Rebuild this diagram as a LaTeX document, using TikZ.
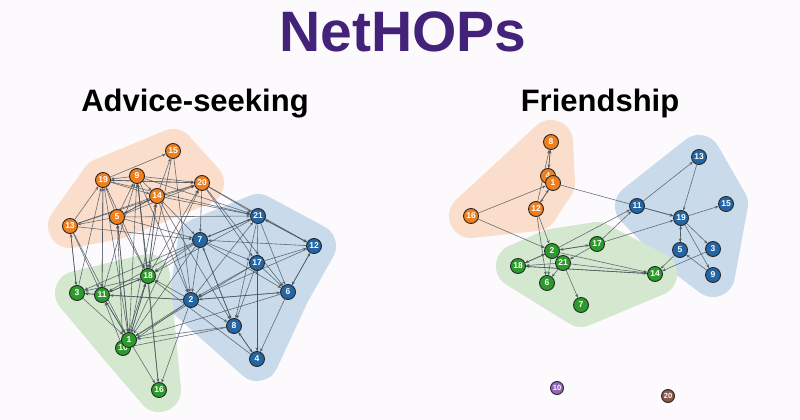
\documentclass[tikz,border=0pt]{standalone}
\usepackage{fontspec}
\setmainfont{Liberation Sans}
\usepackage{xcolor}
\usepackage{tikz}
\usetikzlibrary{arrows.meta}

\definecolor{bgpaper}{RGB}{252,250,253}
\definecolor{titlepurple}{RGB}{67,35,122}
\definecolor{vorange}{RGB}{242,127,30}
\definecolor{vblue}{RGB}{36,101,163}
\definecolor{vgreen}{RGB}{44,155,44}
\definecolor{vpurple}{RGB}{148,103,189}
\definecolor{vbrown}{RGB}{140,86,75}
\definecolor{horange}{RGB}{250,222,203}
\definecolor{hblue}{RGB}{201,219,234}
\definecolor{hgreen}{RGB}{212,232,208}
\definecolor{linkgray}{RGB}{70,80,90}

\pgfdeclarelayer{paper}
\pgfdeclarelayer{hulls}
\pgfdeclarelayer{links}
\pgfsetlayers{paper,hulls,links,main}

\begin{document}
\begin{tikzpicture}[x=1pt,y=-1pt,
		vtx/.style={circle,draw=black!85,line width=0.9pt,minimum size=15pt,inner sep=0pt,
			text=white,font=\fontsize{8.5}{8.5}\selectfont\bfseries},
		onode/.style={vtx,fill=vorange},
		bnode/.style={vtx,fill=vblue},
		gnode/.style={vtx,fill=vgreen},
		pnode/.style={vtx,fill=vpurple,minimum size=13pt,font=\fontsize{7.5}{7.5}\selectfont\bfseries},
		brnode/.style={vtx,fill=vbrown,minimum size=13pt,font=\fontsize{7.5}{7.5}\selectfont\bfseries},
		link/.style={draw=linkgray,opacity=0.8,line width=0.6pt,-{Stealth[length=3.5pt,width=3pt]}},
		ohull/.style={fill=horange,draw=horange,line width=44pt,line join=round},
		bhull/.style={fill=hblue,draw=hblue,line width=44pt,line join=round},
		ghull/.style={fill=hgreen,draw=hgreen,line width=44pt,line join=round},
		heading/.style={anchor=base,font=\fontsize{31}{31}\selectfont\bfseries}]

	\begin{pgfonlayer}{paper}
		\fill[bgpaper] (0,0) rectangle (800,420);
	\end{pgfonlayer}
	\useasboundingbox (0,0) rectangle (800,420);

	\node[anchor=base,text=titlepurple,font=\fontsize{57}{57}\selectfont\bfseries] (title) at (403,52) {NetHOPs};
	\node[heading] (advice) at (195,111) {Advice-seeking};
	\node[heading] (friend) at (600,111) {Friendship};

	% advice-seeking network
	\node[onode] (a15) at (173,151) {15};
	\node[onode] (a19) at (103,180) {19};
	\node[onode] (a9) at (137,176) {9};
	\node[onode] (a20) at (202,183) {20};
	\node[onode] (a14) at (157,196) {14};
	\node[onode] (a5) at (117,217) {5};
	\node[onode] (a13) at (70,226) {13};
	\node[bnode] (a7) at (200,240) {7};
	\node[bnode] (a21) at (258,216) {21};
	\node[bnode] (a12) at (314,246) {12};
	\node[bnode] (a17) at (257,263) {17};
	\node[bnode] (a6) at (288,292) {6};
	\node[bnode] (a2) at (191,300) {2};
	\node[bnode] (a8) at (234,326) {8};
	\node[bnode] (a4) at (257,359) {4};
	\node[gnode] (a18) at (148,276) {18};
	\node[gnode] (a3) at (77,293) {3};
	\node[gnode] (a11) at (102,295) {11};
	\node[gnode] (a10) at (123,348) {10};
	\node[gnode] (a1) at (129,340) {1};
	\node[gnode] (a16) at (159,390) {16};

	% friendship network
	\node[onode] (f8) at (551,142) {8};
	\node[onode] (f4) at (548,176) {4};
	\node[onode] (f1) at (553,183) {1};
	\node[onode] (f12) at (536,209) {12};
	\node[onode] (f16) at (471,216) {16};
	\node[gnode] (f2) at (552,251) {2};
	\node[gnode] (f17) at (597,244) {17};
	\node[gnode] (f21) at (563,263) {21};
	\node[gnode] (f18) at (518,266) {18};
	\node[gnode] (f6) at (547,283) {6};
	\node[gnode] (f7) at (581,305) {7};
	\node[gnode] (f14) at (655,274) {14};
	\node[bnode] (f13) at (699,157) {13};
	\node[bnode] (f11) at (637,206) {11};
	\node[bnode] (f19) at (681,218) {19};
	\node[bnode] (f15) at (726,204) {15};
	\node[bnode] (f5) at (680,250) {5};
	\node[bnode] (f3) at (713,249) {3};
	\node[bnode] (f9) at (713,275) {9};
	\node[pnode] (f10) at (557,388) {10};
	\node[brnode] (f20) at (668,396) {20};

	\begin{pgfonlayer}{hulls}
		\filldraw[ohull] (a13.center) -- (a19.center) -- (a15.center) -- (a20.center) -- (a5.center) -- cycle;
		\filldraw[bhull] (a7.center) -- (a21.center) -- (a12.center) -- (a6.center) -- (a4.center) -- (a2.center) -- cycle;
		\filldraw[ghull] (a3.center) -- (a18.center) -- (a16.center) -- (a10.center) -- cycle;
		\filldraw[ohull] (f16.center) -- (f8.center) -- (f1.center) -- (f12.center) -- cycle;
		\filldraw[bhull] (f11.center) -- (f13.center) -- (f15.center) -- (f9.center) -- (f5.center) -- cycle;
		\filldraw[ghull] (f18.center) -- (f2.center) -- (f17.center) -- (f14.center) -- (f7.center) -- cycle;
	\end{pgfonlayer}

	\begin{pgfonlayer}{links}
		\foreach \s/\t in {19/15,9/19,9/14,19/14,19/20,9/20,14/20,5/20,13/20,13/19,13/14,5/13,5/19,5/9,5/14,14/15,20/19,14/5,
			19/18,19/1,19/11,9/18,9/1,9/2,14/18,14/2,14/7,14/8,14/21,20/21,20/7,20/12,20/17,5/1,5/18,5/7,5/21,
			13/3,13/11,13/1,13/7,15/18,15/2,9/21,19/21,20/6,
			7/21,21/7,7/17,7/6,7/2,7/8,21/17,21/6,21/12,12/21,12/6,6/12,17/6,17/2,17/8,17/4,17/12,2/6,2/8,
			4/8,8/4,6/4,2/21,21/8,4/17,12/7,6/2,8/7,12/2,
			7/18,7/11,7/3,2/18,2/11,2/3,2/1,2/10,2/16,8/1,8/10,17/1,6/1,21/18,7/1,4/18,
			18/3,11/18,18/11,11/3,1/11,11/1,1/18,18/1,10/18,1/16,18/16,3/1,10/11,
			18/14,18/20,11/19,1/5,3/13,18/9,1/14,3/19,11/9,1/20,10/5,16/9}
			\draw[link] (a\s) -- (a\t);
		\foreach \s/\t in {8/4,4/8,12/8,1/4,1/12,12/1,16/1,16/2,12/2,12/6,1/19,2/11,11/13,13/19,11/19,19/15,
			5/19,19/5,19/3,19/9,9/5,3/14,5/14,17/11,17/19,2/17,17/2,2/21,21/2,2/18,21/18,2/6,21/6,21/7,
			17/21,18/14,14/18,2/14,21/14,18/2}
			\draw[link] (f\s) -- (f\t);
	\end{pgfonlayer}
\end{tikzpicture}
\end{document}
